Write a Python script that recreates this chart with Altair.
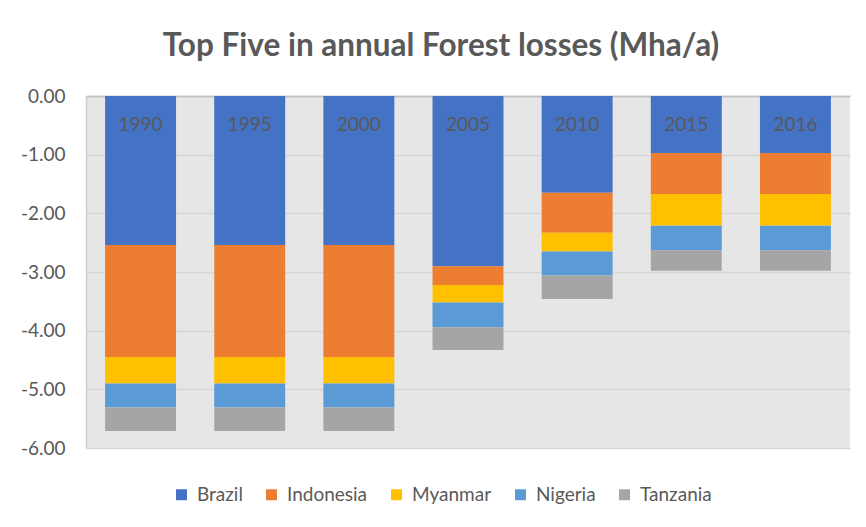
import altair as alt
import pandas as pd

years = ["1990", "1995", "2000", "2005", "2010", "2015", "2016"]
countries = ["Brazil", "Indonesia", "Myanmar", "Nigeria", "Tanzania"]
brazil = [-2.54, -2.54, -2.54, -2.90, -1.65, -0.97, -0.97]
indonesia = [-1.91, -1.91, -1.91, -0.32, -0.68, -0.70, -0.70]
myanmar = [-0.45, -0.45, -0.45, -0.30, -0.32, -0.54, -0.54]
nigeria = [-0.41, -0.41, -0.41, -0.42, -0.41, -0.42, -0.42]
tanzania = [-0.40, -0.40, -0.40, -0.39, -0.40, -0.35, -0.35]
colors = ["#4472C4", "#ED7D31", "#FFC000", "#5B9BD5", "#A5A5A5"]

series = [brazil, indonesia, myanmar, nigeria, tanzania]
rows = []
for ci, (c, vals) in enumerate(zip(countries, series)):
    for y, v in zip(years, vals):
        rows.append({"year": y, "country": c, "value": v, "order": ci})
df = pd.DataFrame(rows)
labels_df = pd.DataFrame({"year": years})

FONT = "Lato"
GREY = "#595959"

x_enc = alt.X(
    "year:N",
    sort=years,
    scale=alt.Scale(paddingInner=0.35, paddingOuter=0.175),
    axis=alt.Axis(
        orient="top", labels=False, ticks=False, title=None,
        domain=True, domainColor="#bfbfbf", domainWidth=1.5, grid=False,
    ),
)

bars = alt.Chart(df).mark_bar().encode(
    x=x_enc,
    y=alt.Y(
        "value:Q",
        stack="zero",
        scale=alt.Scale(domain=[-6, 0], nice=False),
        axis=alt.Axis(
            values=[0, -1, -2, -3, -4, -5, -6],
            labelExpr="(datum.value < 0 ? '-' : '') + format(abs(datum.value), '.2f')",
            title=None, ticks=False, labelPadding=21,
            labelFontSize=19, labelColor=GREY, labelFont=FONT,
            domain=True, domainColor="#d0d0d0", domainWidth=1.5,
            grid=True, gridColor="#d6d6d6", gridWidth=1.5,
        ),
    ),
    color=alt.Color(
        "country:N",
        sort=countries,
        scale=alt.Scale(domain=countries, range=colors),
        legend=alt.Legend(
            title=None, orient="none", direction="horizontal",
            legendX=86, legendY=389,
            symbolType="square", symbolSize=120, symbolStrokeWidth=0,
            labelFontSize=19, labelColor=GREY, labelFont=FONT,
            labelOffset=6, columnPadding=19, padding=0,
        ),
    ),
    order=alt.Order("order:Q", sort="ascending"),
)

texts = alt.Chart(labels_df).mark_text(
    fontSize=19, color=GREY, font=FONT, baseline="middle"
).encode(
    x=alt.X("year:N", sort=years),
    y=alt.value(29),
    text="year:N",
)

chart = alt.layer(bars, texts).properties(
    width=764,
    height=352,
    background="white",
    title=alt.TitleParams(
        "Top Five in annual Forest losses (Mha/a)",
        fontSize=31.5, font=FONT, fontWeight="bold", color=GREY,
        anchor="middle", frame="group", dx=-27, offset=0,
        baseline="alphabetic",
    ),
    autosize=alt.AutoSizeParams(type="none"),
    padding={"left": 78, "top": 88, "right": 8, "bottom": 71},
).configure_view(
    fill="#e6e6e6", stroke=None
)

chart.save("out.html", embed_options={"renderer": "svg", "actions": False})
